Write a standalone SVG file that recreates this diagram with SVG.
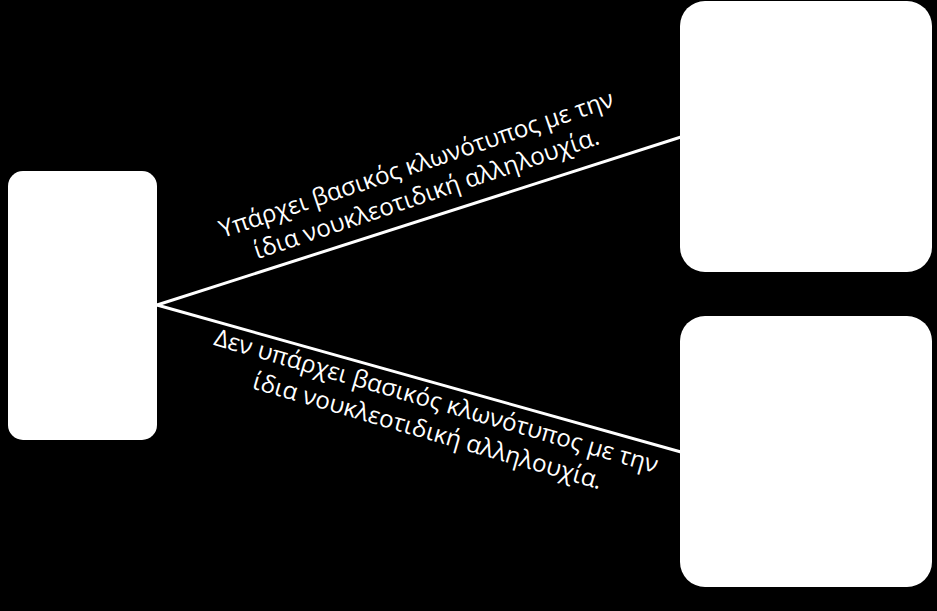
<svg xmlns="http://www.w3.org/2000/svg" width="937" height="611" viewBox="0 0 937 611">
<style>
.box{fill:#ffffff;}
.conn{stroke:#ffffff;stroke-width:3;fill:none;}
.lbl{font-family:"Open Sans","Noto Sans","DejaVu Sans",sans-serif;font-size:24.2px;fill:#ffffff;text-anchor:middle;}
</style>
<rect x="0" y="0" width="937" height="611" fill="#000000"/>
<g id="connectors">
<line class="conn" x1="157" y1="305" x2="681" y2="137"/>
<line class="conn" x1="157" y1="305" x2="681" y2="452"/>
</g>
<g id="node-left"><rect class="box" x="8" y="171" width="149" height="269" rx="15" ry="15"/></g>
<g id="node-top-right"><rect class="box" x="680" y="1" width="252" height="271" rx="25" ry="25"/></g>
<g id="node-bottom-right"><rect class="box" x="680" y="316" width="252" height="271" rx="25" ry="25"/></g>
<g id="label-top" transform="translate(419,172) rotate(-18.6)">
<text class="lbl" x="0" y="0">Υπάρχει βασικός κλωνότυπος με την</text>
<text class="lbl" x="0" y="31">ίδια νουκλεοτιδική αλληλουχία.</text>
</g>
<g id="label-bottom" transform="translate(434,409) rotate(16.2)">
<text class="lbl" x="0" y="0">Δεν υπάρχει βασικός κλωνότυπος με την</text>
<text class="lbl" x="0" y="31">ίδια νουκλεοτιδική αλληλουχία.</text>
</g>
</svg>
